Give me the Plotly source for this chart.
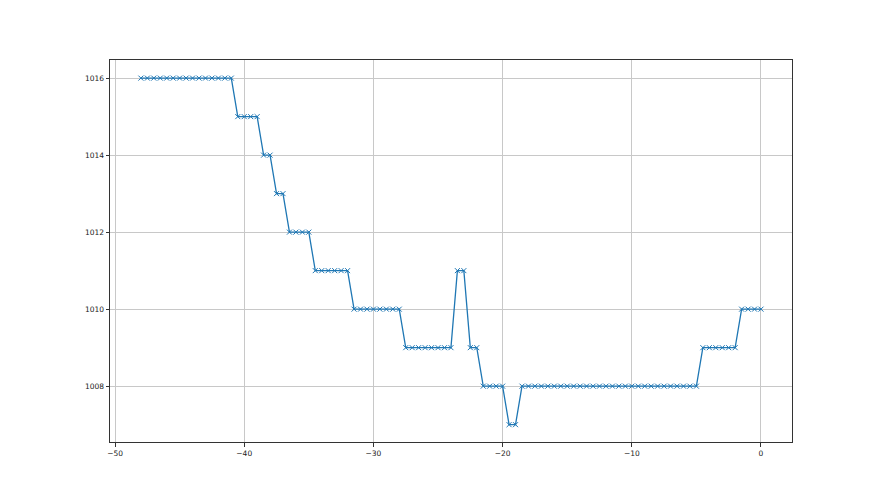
import numpy as np
import plotly.graph_objects as go

# x values: hours (step 0.5) from -48 to 0
x_start = -48.0
x_step = 0.5
# pressure readings, one per x step
pressure = (
    [1016] * 15 +
    [1015] * 4 +
    [1014] * 2 +
    [1013] * 2 +
    [1012] * 4 +
    [1011] * 6 +
    [1010] * 8 +
    [1009] * 8 +
    [1011] * 2 +
    [1009] * 2 +
    [1008] * 4 +
    [1007] * 2 +
    [1008] * 28 +
    [1009] * 6 +
    [1010] * 4
)
x_vals = [x_start + x_step * i for i in range(len(pressure))]

x_ticks = [-50, -40, -30, -20, -10, 0]
y_ticks = [1008, 1010, 1012, 1014, 1016]

fig = go.Figure()
fig.add_trace(go.Scatter(
    x=x_vals, y=pressure, mode="lines+markers",
    line=dict(color="#1f77b4", width=1.3),
    marker=dict(symbol="x-thin", size=5, color="#1f77b4",
                line=dict(width=1, color="#1f77b4")),
    showlegend=False,
))

axis_common = dict(
    showgrid=True, gridcolor="#c8c8c8", gridwidth=0.8,
    showline=True, linecolor="#333333", linewidth=1, mirror=True,
    ticks="outside", ticklen=3.5, tickcolor="#333333", tickwidth=0.8,
    zeroline=False,
    tickfont=dict(family="DejaVu Sans", size=7.5, color="#222222"),
)

fig.update_layout(
    width=880, height=495,
    paper_bgcolor="white", plot_bgcolor="white",
    margin=dict(l=102, r=96, t=52, b=61),
    xaxis=dict(range=[-50.39, 2.4], tickvals=x_ticks,
               ticktext=["\u221250", "\u221240", "\u221230", "\u221220", "\u221210", "0"],
               **axis_common),
    yaxis=dict(range=[1006.55, 1016.47], tickvals=y_ticks, **axis_common),
)

fig.write_html("out.html")
